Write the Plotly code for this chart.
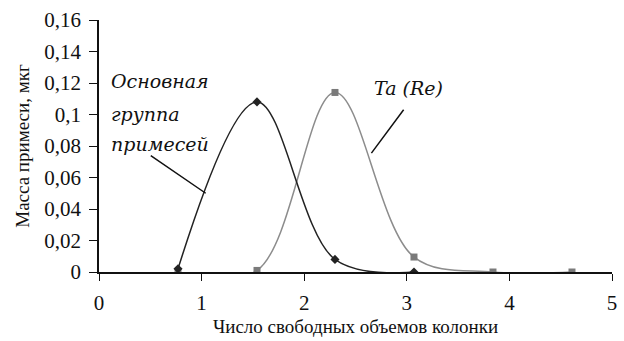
import plotly.graph_objects as go

x_main = [0.77, 1.54, 2.30, 3.07]
y_main = [0.002, 0.108, 0.008, 0.0]
x_ta = [0.77, 1.54, 2.30, 3.07, 3.84, 4.61]
y_ta = [0.0, 0.001, 0.114, 0.0095, 0.0, 0.0]

x_ticks = [0, 1, 2, 3, 4, 5]
y_ticks = [0, 0.02, 0.04, 0.06, 0.08, 0.1, 0.12, 0.14, 0.16]

main_label = ["Основная", "группа", "примесей"]
main_label_y = [0.1215, 0.1005, 0.0815]

fig = go.Figure()
fig.add_trace(go.Scatter(
    x=x_ta, y=y_ta, mode="lines+markers",
    line=dict(color="#8c8c8c", width=1.5, shape="spline", smoothing=1),
    marker=dict(symbol="square", size=7, color="#7a7a7a"),
    cliponaxis=True, showlegend=False))
fig.add_trace(go.Scatter(
    x=x_main, y=y_main, mode="lines+markers",
    line=dict(color="#222222", width=1.5, shape="spline", smoothing=1),
    marker=dict(symbol="diamond", size=7, color="#222222"),
    cliponaxis=True, showlegend=False))

serif = "Liberation Serif, Times New Roman, DejaVu Serif, serif"
ital = "DejaVu Serif, Liberation Serif, serif"
for txt, yy in zip(main_label, main_label_y):
    fig.add_annotation(x=0.10, y=yy, xref="x", yref="y", xanchor="left", yanchor="middle",
                       text=txt, showarrow=False,
                       font=dict(family=ital, size=19, color="#111", style="italic"))
fig.add_annotation(x=2.66, y=0.117, xref="x", yref="y", xanchor="left", yanchor="middle",
                   text="Ta (Re)", showarrow=False,
                   font=dict(family=ital, size=19, color="#111", style="italic"))
fig.add_annotation(x=1.04, y=0.050, ax=0.49, ay=0.0745, axref="x", ayref="y",
                   xref="x", yref="y", text="", showarrow=True, arrowhead=0,
                   arrowwidth=1.5, arrowcolor="#111")
fig.add_annotation(x=2.655, y=0.0755, ax=2.98, ay=0.104, axref="x", ayref="y",
                   xref="x", yref="y", text="", showarrow=True, arrowhead=0,
                   arrowwidth=1.5, arrowcolor="#111")

fig.update_layout(
    width=624, height=341,
    margin=dict(l=99, r=7, t=20, b=69),
    paper_bgcolor="white", plot_bgcolor="white",
    separators=", ",
    font=dict(family=serif, size=17, color="#111"),
    xaxis=dict(range=[0, 5], tickvals=x_ticks, showgrid=False, zeroline=False,
               showline=True, linecolor="#111", linewidth=1.5, ticks="outside",
               ticklen=7, tickcolor="#111", ticklabelstandoff=4,
               title=dict(text="Число свободных объемов колонки", font=dict(size=19), standoff=6),
               tickfont=dict(size=21)),
    yaxis=dict(range=[0, 0.16], tickvals=y_ticks, showgrid=False, zeroline=False,
               showline=True, linecolor="#111", linewidth=1.5, ticks="outside",
               ticklen=8, tickcolor="#111", ticklabelstandoff=4,
               title=dict(text="Масса примеси, мкг", font=dict(size=19), standoff=10),
               tickfont=dict(size=21)),
)
fig.write_html("out.html", config={"displayModeBar": False},
               post_script="document.body.style.margin='0';document.body.style.overflow='hidden';")
